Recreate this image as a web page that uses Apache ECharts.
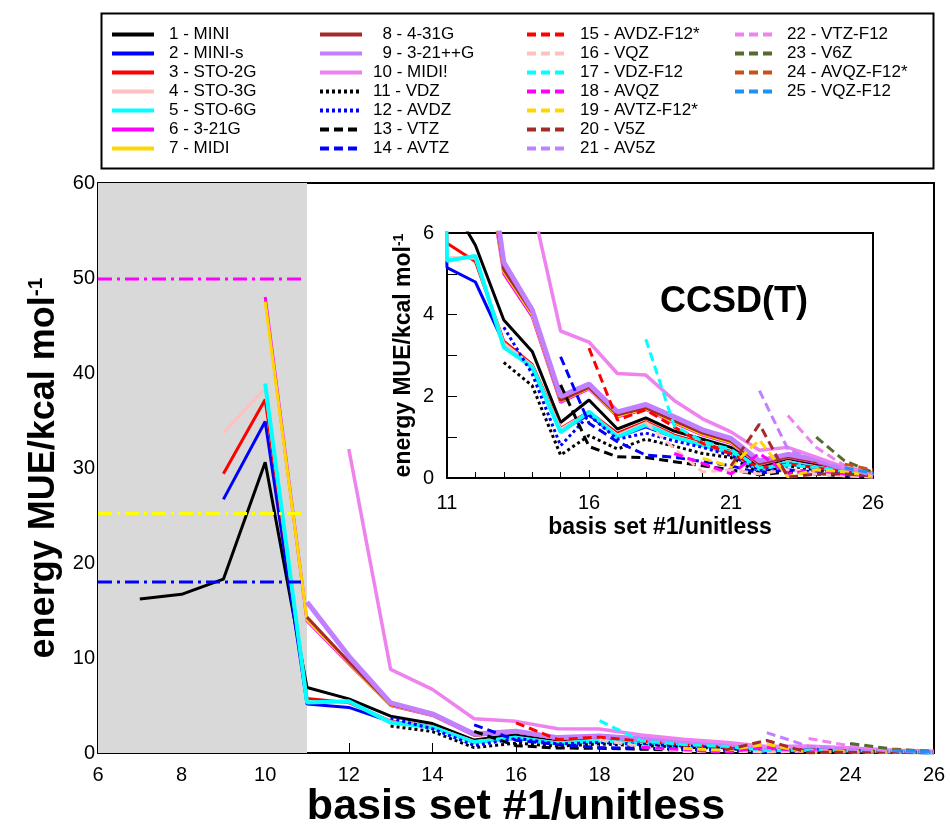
<!DOCTYPE html>
<html>
<head>
<meta charset="utf-8">
<script src="https://cdn.jsdelivr.net/npm/echarts@6/dist/echarts.min.js"></script>
<style>
  html, body { margin: 0; padding: 0; background: #fff; }
  #chartBox { width: 950px; height: 826px; }
</style>
</head>
<body>
<div id="chartBox"></div>
<script>
  // basis set #1 (x) – every value array below is aligned to this one
  var basisX = [6, 7, 8, 9, 10, 11, 12, 13, 14, 15, 16, 17, 18, 19, 20, 21, 22, 23, 24, 25, 26];

  var MINI      = [null, 16.2, 16.7, 18.3, 30.6, 6.9, 5.7, 3.87, 3.1, 1.36, 1.91, 1.2, 1.47, 1.15, 0.95, 0.75, 0.25, 0.48, 0.32, 0.2, 0.08];
  var MINI_s    = [null, null, null, 26.7, 34.9, 5.15, 4.8, 3.3, 2.7, 1.15, 1.55, 1.0, 1.25, 1.0, 0.8, 0.6, 0.15, 0.35, 0.25, 0.15, 0.05];
  var STO_2G    = [null, null, null, 29.4, 37.2, 5.75, 5.3, 3.35, 2.78, 1.22, 1.62, 1.1, 1.38, 1.05, 0.85, 0.65, 0.2, 0.4, 0.28, 0.17, 0.06];
  var STO_3G    = [null, null, null, 33.7, 38.4, 5.4, 5.38, 3.3, 2.75, 1.2, 1.6, 1.05, 1.35, 1.02, 0.82, 0.62, 0.18, 0.4, 0.27, 0.16, 0.06];
  var STO_6G    = [null, null, null, null, 38.9, 5.32, 5.44, 3.2, 2.72, 1.12, 1.62, 1.0, 1.3, 1.0, 0.8, 0.62, 0.2, 0.38, 0.25, 0.15, 0.05];
  var G3_21     = [null, null, null, null, 48.0, 13.9, 9.4, 5.0, 3.95, 1.85, 2.18, 1.5, 1.68, 1.35, 1.05, 0.85, 0.33, 0.5, 0.38, 0.2, 0.08];
  var MIDI      = [null, null, null, null, 47.5, 14.0, 9.5, 5.05, 4.0, 1.88, 2.2, 1.52, 1.7, 1.37, 1.07, 0.87, 0.34, 0.52, 0.4, 0.2, 0.08];
  var G4_31     = [null, null, null, null, null, 14.3, 9.6, 5.1, 4.05, 1.9, 2.22, 1.55, 1.72, 1.4, 1.1, 0.9, 0.35, 0.52, 0.4, 0.2, 0.08];
  var G3_21pp   = [null, null, null, null, null, 15.9, 10.2, 5.28, 4.12, 2.0, 2.3, 1.62, 1.8, 1.5, 1.18, 0.97, 0.42, 0.58, 0.45, 0.22, 0.1];
  var MIDIbang  = [null, null, null, null, null, null, 32.0, 8.8, 6.7, 3.6, 3.33, 2.56, 2.52, 1.9, 1.45, 1.13, 0.68, 0.75, 0.51, 0.26, 0.06];
  var VDZ       = [null, null, null, null, null, null, null, 2.83, 2.26, 0.56, 1.04, 0.71, 0.95, 0.78, 0.6, 0.5, 0.12, 0.3, 0.2, 0.1, 0.04];
  var AVDZ      = [null, null, null, null, null, null, null, 3.69, 2.55, 0.79, 1.54, 0.95, 1.1, 0.91, 0.75, 0.55, 0.2, 0.35, 0.25, 0.12, 0.05];
  var VTZ       = [null, null, null, null, null, null, null, null, null, 2.28, 0.77, 0.52, 0.5, 0.4, 0.3, 0.2, 0.08, 0.15, 0.1, 0.05, 0.02];
  var AVTZ      = [null, null, null, null, null, null, null, null, null, 2.97, 1.34, 0.89, 0.56, 0.51, 0.4, 0.3, 0.12, 0.2, 0.15, 0.08, 0.03];
  var AVDZ_F12  = [null, null, null, null, null, null, null, null, null, null, 3.18, 1.42, 1.67, 1.25, 0.85, 0.6, 0.25, 0.35, 0.25, 0.15, 0.08];
  var VQZ       = [null, null, null, null, null, null, null, null, null, null, null, null, 1.36, 0.72, 0.15, 0.2, 0.1, 0.2, 0.1, 0.05, 0.02];
  var VDZ_F12   = [null, null, null, null, null, null, null, null, null, null, null, null, 3.4, 1.28, 0.9, 0.7, 0.25, 0.32, 0.25, 0.15, 0.05];
  var AVQZ      = [null, null, null, null, null, null, null, null, null, null, null, null, null, 0.6, 0.36, 0.1, 0.6, 0.1, 0.2, 0.1, 0.05];
  var AVTZ_F12  = [null, null, null, null, null, null, null, null, null, null, null, null, null, null, 0.48, 0.28, 0.93, 0.03, 0.2, 0.15, 0.05];
  var V5Z       = [null, null, null, null, null, null, null, null, null, null, null, null, null, null, null, 0.3, 1.32, 0.02, 0.1, 0.1, 0.05];
  var AV5Z      = [null, null, null, null, null, null, null, null, null, null, null, null, null, null, null, null, 2.14, 0.71, 0.4, 0.25, 0.05];
  var VTZ_F12   = [null, null, null, null, null, null, null, null, null, null, null, null, null, null, null, null, null, 1.53, 0.75, 0.3, 0.1];
  var V6Z       = [null, null, null, null, null, null, null, null, null, null, null, null, null, null, null, null, null, null, 1.0, 0.42, 0.14];
  var AVQZ_F12  = [null, null, null, null, null, null, null, null, null, null, null, null, null, null, null, null, null, null, null, 0.34, 0.2];
  var VQZ_F12   = [null, null, null, null, null, null, null, null, null, null, null, null, null, null, null, null, null, null, null, 0.25, 0.12];

  // horizontal reference levels inside the grey zone
  var refLevels = [49.9, 25.2, 18.0];
  var refSpan = [6, 10.9];

  var names = ['1 - MINI', '2 - MINI-s', '3 - STO-2G', '4 - STO-3G', '5 - STO-6G', '6 - 3-21G', '7 - MIDI',
    '8 - 4-31G', '9 - 3-21++G', '10 - MIDI!', '11 - VDZ', '12 - AVDZ', '13 - VTZ', '14 - AVTZ',
    '15 - AVDZ-F12*', '16 - VQZ', '17 - VDZ-F12', '18 - AVQZ', '19 - AVTZ-F12*', '20 - V5Z', '21 - AV5Z',
    '22 - VTZ-F12', '23 - V6Z', '24 - AVQZ-F12*', '25 - VQZ-F12'];
  var values = [MINI, MINI_s, STO_2G, STO_3G, STO_6G, G3_21, MIDI, G4_31, G3_21pp, MIDIbang, VDZ, AVDZ, VTZ, AVTZ,
    AVDZ_F12, VQZ, VDZ_F12, AVQZ, AVTZ_F12, V5Z, AV5Z, VTZ_F12, V6Z, AVQZ_F12, VQZ_F12];

  var colors = ['#000000', '#0000ff', '#ff0000', '#ffc0c0', '#00ffff', '#ff00ff', '#ffd700', '#a52a2a', '#c080ff', '#ee82ee',
    '#000000', '#0000ff', '#000000', '#0000ff', '#ff0000', '#ffc0c0', '#00ffff', '#ff00ff', '#ffd700', '#a52a2a',
    '#c080ff', '#ee82ee', '#556b2f', '#c8501a', '#1e90ff'];
  var DASH = [9, 5], DOT = [3, 3];
  var lineTypes = ['solid', 'solid', 'solid', 'solid', 'solid', 'solid', 'solid', 'solid', 'solid', 'solid',
    DOT, DOT, DASH, DASH, DASH, DASH, DASH, DASH, DASH, DASH, DASH, DASH, DASH, DASH, DASH];
  var widths = [3, 3, 3, 3, 4, 3, 3, 3, 5, 3.5, 3, 3, 3, 3, 3, 3, 3, 3, 3, 3, 3, 3, 3, 3, 3];

  var FONT = 'Liberation Sans';

  var chart = echarts.init(document.getElementById('chartBox'));

  function makeSeries(i, inset) {
    var pts = [];
    basisX.forEach(function (x, k) {
      if (values[i][k] !== null) pts.push([x, values[i][k]]);
    });
    return {
      name: names[i],
      type: 'line',
      xAxisIndex: inset ? 1 : 0,
      yAxisIndex: inset ? 1 : 0,
      data: pts,
      symbol: 'none',
      clip: true,
      lineStyle: { color: colors[i], width: widths[i], type: lineTypes[i], cap: 'butt' },
      itemStyle: { color: colors[i] }
    };
  }

  var series = [];
  // grey region x=6..11 (holds the markArea only)
  series.push({
    type: 'line', xAxisIndex: 0, yAxisIndex: 0, data: [], symbol: 'none',
    markArea: {
      silent: true,
      itemStyle: { color: '#d9d9d9' },
      data: [[{ xAxis: 6 }, { xAxis: 11 }]]
    }
  });
  for (var i = 0; i < names.length; i++) series.push(makeSeries(i, false));
  var refColors = ['#ff00ff', '#ffff00', '#0000ff'];
  refLevels.forEach(function (lv, k) {
    series.push({
      type: 'line', xAxisIndex: 0, yAxisIndex: 0, symbol: 'none',
      data: [[refSpan[0], lv], [refSpan[1], lv]],
      lineStyle: { color: refColors[k], width: 3, type: [14, 5, 3, 5] }
    });
  });
  for (var j = 0; j < names.length; j++) series.push(makeSeries(j, true));

  function legendCol(left, from, to, pad) {
    return {
      orient: 'vertical', left: left, top: 26, padding: 0,
      itemWidth: 42, itemHeight: 14, itemGap: 2,
      selectedMode: false,
      data: names.slice(from, to),
      lineStyle: { width: 4 },
      itemStyle: { opacity: 0 },
      formatter: function (n) { return (n.indexOf('8 -') === 0 || n.indexOf('9 -') === 0) ? '  ' + n : n; },
      textStyle: { fontFamily: FONT, fontSize: 17, color: '#000', padding: [0, 0, 0, pad] }
    };
  }

  var axisFont = { fontFamily: FONT, fontSize: 20, color: '#000' };

  var option = {
    animation: false,
    backgroundColor: '#fff',
    legend: [
      legendCol(110, 0, 7, 10),
      legendCol(318, 7, 14, 6),
      legendCol(525, 14, 21, 6),
      legendCol(733, 21, 25, 5)
    ],
    graphic: [
      { type: 'rect', left: 99, top: 11, shape: { width: 832, height: 155 },
        style: { fill: 'none', stroke: '#000', lineWidth: 2 } },
      { type: 'text', left: 660, top: 284, z: 100,
        style: { text: 'CCSD(T)', font: 'bold 36px "Liberation Sans"', fill: '#000' } }
    ],
    grid: [
      { left: 98, top: 183, width: 836, height: 570, show: true, borderColor: '#000', borderWidth: 2,
        outerBoundsMode: 'none', containLabel: false },
      { left: 447, top: 233, width: 426, height: 245, show: true, backgroundColor: '#fff',
        borderColor: '#000', borderWidth: 2, outerBoundsMode: 'none', containLabel: false }
    ],
    xAxis: [
      {
        gridIndex: 0, type: 'value', min: 6, max: 26, interval: 2,
        name: 'basis set #1/unitless', nameLocation: 'middle', nameGap: 33, nameMoveOverlap: false,
        nameTextStyle: { fontFamily: FONT, fontWeight: 'bold', fontSize: 43, color: '#000' },
        axisLine: { lineStyle: { color: '#000', width: 2 } },
        axisTick: { inside: true, length: 10, lineStyle: { color: '#000' } },
        axisLabel: Object.assign({ margin: 12 }, axisFont),
        splitLine: { show: false }
      },
      {
        gridIndex: 1, type: 'value', min: 11, max: 26, interval: 5,
        name: 'basis set #1/unitless', nameLocation: 'middle', nameGap: 38,
        nameTextStyle: { fontFamily: FONT, fontWeight: 'bold', fontSize: 23, color: '#000' },
        axisLine: { lineStyle: { color: '#000', width: 2 } },
        axisTick: { inside: true, length: 8, lineStyle: { color: '#000' } },
        minorTick: { show: true, splitNumber: 5, length: 6, lineStyle: { color: '#000' } },
        axisLabel: Object.assign({ margin: 15 }, axisFont),
        splitLine: { show: false }
      }
    ],
    yAxis: [
      {
        gridIndex: 0, type: 'value', min: 0, max: 60, interval: 10,
        name: 'energy MUE/kcal mol{sup|-1}', nameLocation: 'middle', nameGap: 35,
        nameTextStyle: { fontFamily: FONT, fontWeight: 'bold', fontSize: 36, color: '#000',
          rich: { sup: { fontFamily: FONT, fontWeight: 'bold', fontSize: 21, verticalAlign: 'top', lineHeight: 21 } } },
        axisLine: { lineStyle: { color: '#000', width: 2 } },
        axisTick: { inside: true, length: 10, lineStyle: { color: '#000' } },
        minorTick: { show: true, splitNumber: 2, length: 10, lineStyle: { color: '#000' } },
        axisLabel: Object.assign({ margin: 3 }, axisFont),
        splitLine: { show: false }
      },
      {
        gridIndex: 1, type: 'value', min: 0, max: 6, interval: 2,
        name: 'energy MUE/kcal mol{sup|-1}', nameLocation: 'middle', nameGap: 32,
        nameTextStyle: { fontFamily: FONT, fontWeight: 'bold', fontSize: 23, color: '#000',
          rich: { sup: { fontFamily: FONT, fontWeight: 'bold', fontSize: 14, verticalAlign: 'top', lineHeight: 14 } } },
        axisLine: { lineStyle: { color: '#000', width: 2 } },
        axisTick: { inside: true, length: 10, lineStyle: { color: '#000' } },
        minorTick: { show: true, splitNumber: 2, length: 10, lineStyle: { color: '#000' } },
        axisLabel: Object.assign({ margin: 13 }, axisFont),
        splitLine: { show: false }
      }
    ],
    series: series
  };

  chart.setOption(option);
  window.onresize = chart.resize;
</script>
</body>
</html>
